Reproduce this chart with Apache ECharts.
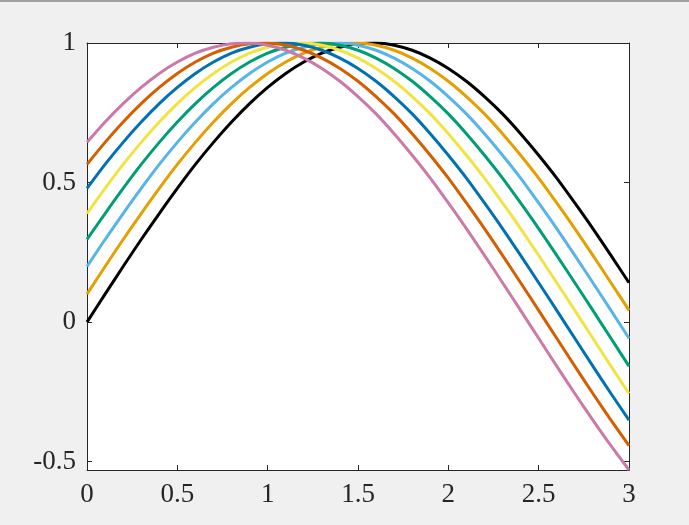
<!DOCTYPE html>
<html>
<head>
<meta charset="utf-8">
<script src="https://cdn.jsdelivr.net/npm/echarts@6/dist/echarts.min.js"></script>
<style>
  html, body { margin: 0; padding: 0; background: #f0f0f0; }
  #top { position: absolute; left: 0; top: 0; width: 689px; height: 2px; background: #a0a0a0; }
  #chart { position: absolute; left: 0; top: 0; width: 689px; height: 525px; }
</style>
</head>
<body>
<div id="chart"></div>
<div id="top"></div>
<script>
// x samples, 0 .. 3 in steps of 0.1
const xs = [0, 0.1, 0.2, 0.3, 0.4, 0.5, 0.6, 0.7, 0.8, 0.9, 1, 1.1, 1.2, 1.3, 1.4, 1.5,
  1.6, 1.7, 1.8, 1.9, 2, 2.1, 2.2, 2.3, 2.4, 2.5, 2.6, 2.7, 2.8, 2.9, 3];

const curveBlack = [0.000, 0.100, 0.199, 0.296, 0.389, 0.479, 0.565, 0.644, 0.717, 0.783, 0.841,
  0.891, 0.932, 0.964, 0.985, 0.997, 1.000, 0.992, 0.974, 0.946, 0.909, 0.863, 0.808, 0.746,
  0.675, 0.598, 0.516, 0.427, 0.335, 0.239, 0.141];
const curveOrange = [0.100, 0.199, 0.296, 0.389, 0.479, 0.565, 0.644, 0.717, 0.783, 0.841, 0.891,
  0.932, 0.964, 0.985, 0.997, 1.000, 0.992, 0.974, 0.946, 0.909, 0.863, 0.808, 0.746, 0.675,
  0.598, 0.516, 0.427, 0.335, 0.239, 0.141, 0.042];
const curveSky = [0.199, 0.296, 0.389, 0.479, 0.565, 0.644, 0.717, 0.783, 0.841, 0.891, 0.932,
  0.964, 0.985, 0.997, 1.000, 0.992, 0.974, 0.946, 0.909, 0.863, 0.808, 0.746, 0.675, 0.598,
  0.516, 0.427, 0.335, 0.239, 0.141, 0.042, -0.058];
const curveGreen = [0.296, 0.389, 0.479, 0.565, 0.644, 0.717, 0.783, 0.841, 0.891, 0.932, 0.964,
  0.985, 0.997, 1.000, 0.992, 0.974, 0.946, 0.909, 0.863, 0.808, 0.746, 0.675, 0.598, 0.516,
  0.427, 0.335, 0.239, 0.141, 0.042, -0.058, -0.158];
const curveYellow = [0.389, 0.479, 0.565, 0.644, 0.717, 0.783, 0.841, 0.891, 0.932, 0.964, 0.985,
  0.997, 1.000, 0.992, 0.974, 0.946, 0.909, 0.863, 0.808, 0.746, 0.675, 0.598, 0.516, 0.427,
  0.335, 0.239, 0.141, 0.042, -0.058, -0.158, -0.256];
const curveBlue = [0.479, 0.565, 0.644, 0.717, 0.783, 0.841, 0.891, 0.932, 0.964, 0.985, 0.997,
  1.000, 0.992, 0.974, 0.946, 0.909, 0.863, 0.808, 0.746, 0.675, 0.598, 0.516, 0.427, 0.335,
  0.239, 0.141, 0.042, -0.058, -0.158, -0.256, -0.351];
const curveRed = [0.565, 0.644, 0.717, 0.783, 0.841, 0.891, 0.932, 0.964, 0.985, 0.997, 1.000,
  0.992, 0.974, 0.946, 0.909, 0.863, 0.808, 0.746, 0.675, 0.598, 0.516, 0.427, 0.335, 0.239,
  0.141, 0.042, -0.058, -0.158, -0.256, -0.351, -0.443];
const curvePink = [0.644, 0.717, 0.783, 0.841, 0.891, 0.932, 0.964, 0.985, 0.997, 1.000, 0.992,
  0.974, 0.946, 0.909, 0.863, 0.808, 0.746, 0.675, 0.598, 0.516, 0.427, 0.335, 0.239, 0.141,
  0.042, -0.058, -0.158, -0.256, -0.351, -0.443, -0.530];

const curves = [curveBlack, curveOrange, curveSky, curveGreen, curveYellow, curveBlue, curveRed, curvePink];
const colors = ['#000000', '#E69F00', '#56B4E9', '#009E73', '#F0E442', '#0072B2', '#D55E00', '#CC79A7'];

const yTicks = [-0.5, 0, 0.5, 1];

const chart = echarts.init(document.getElementById('chart'));
const ink = '#262626';
const labelStyle = { fontFamily: 'Liberation Serif', fontSize: 27, color: ink };

function xAxisOf(pos, showLabels) {
  return {
    type: 'value', position: pos, min: 0, max: 3, interval: 0.5,
    axisLine: { show: true, onZero: false, lineStyle: { color: ink, width: 1 } },
    axisTick: { show: true, inside: true, length: 5, lineStyle: { color: ink } },
    axisLabel: Object.assign({ show: showLabels, margin: 11 }, labelStyle),
    splitLine: { show: false },
  };
}
function yAxisOf(pos, showLabels) {
  return {
    type: 'value', position: pos, min: -0.53, max: 1,
    axisLine: { show: true, onZero: false, lineStyle: { color: ink, width: 1 } },
    axisTick: { show: true, inside: true, length: 5, customValues: yTicks, lineStyle: { color: ink } },
    axisLabel: Object.assign({ show: showLabels, margin: 11, customValues: yTicks }, labelStyle),
    splitLine: { show: false },
  };
}

chart.setOption({
  backgroundColor: '#f0f0f0',
  animation: false,
  grid: { left: 87, top: 43, right: 60, bottom: 55, show: true, backgroundColor: '#ffffff', borderWidth: 0 },
  xAxis: [xAxisOf('bottom', true), xAxisOf('top', false)],
  yAxis: [yAxisOf('left', true), yAxisOf('right', false)],
  series: curves.map((c, i) => ({
    type: 'line',
    data: c.map((v, j) => [xs[j], v]),
    showSymbol: false,
    smooth: 0.3,
    lineStyle: { color: colors[i], width: 3 },
    clip: true,
  })),
});
</script>
</body>
</html>
